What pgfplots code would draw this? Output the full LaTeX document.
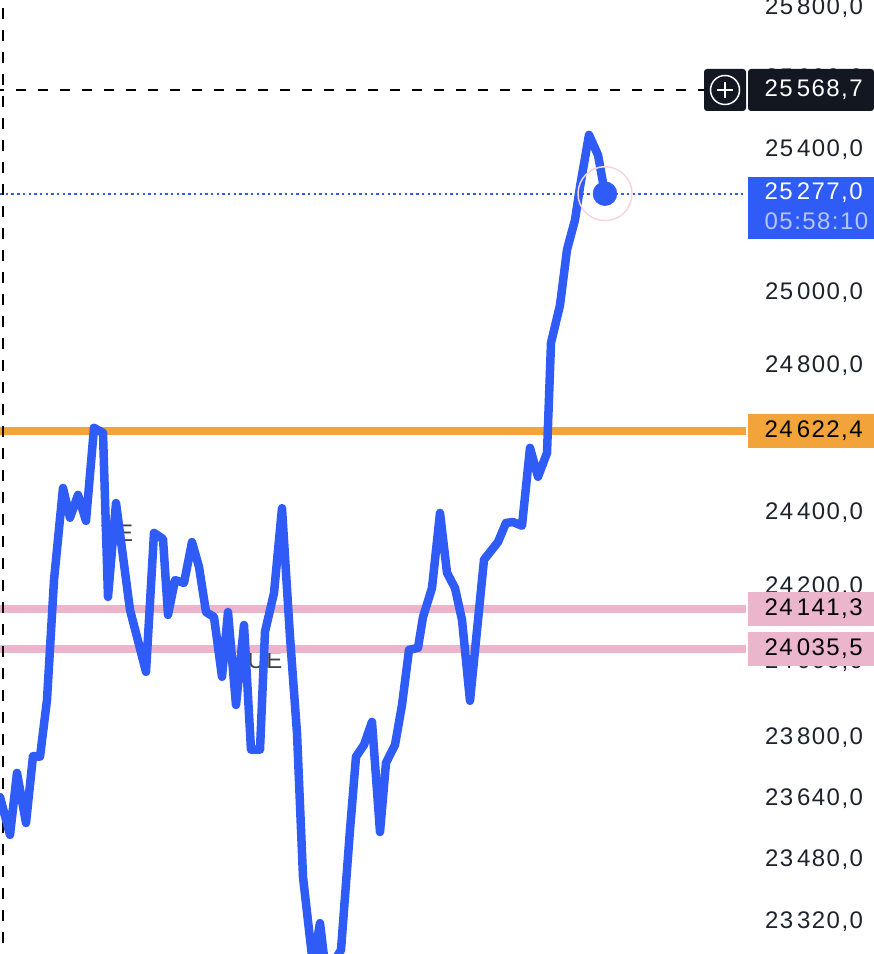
\documentclass[border=0pt]{standalone}
\usepackage{fontspec}
\setmainfont[LetterSpace=6]{Liberation Sans}
\usepackage{pgfplots}
\pgfplotsset{compat=1.18}

\definecolor{lineblue}{HTML}{2F5BF6}
\definecolor{lineorange}{HTML}{F2A33A}
\definecolor{linepink}{HTML}{EBB5CB}
\definecolor{tagblack}{HTML}{131722}
\definecolor{ringpink}{HTML}{F6D6D9}
\definecolor{lightblue}{HTML}{B5C5FB}
\definecolor{ticktext}{HTML}{1E222D}
\newcommand{\pricefont}{\fontsize{24}{26}\selectfont}

\begin{document}
\begin{tikzpicture}[x=1pt,y=1pt]
\useasboundingbox (0,0) rectangle (874,954);
\clip (0,0) rectangle (874,954);
\begin{axis}[
	at={(0,0)}, anchor=south west,
	scale only axis,
	width=746pt, height=954pt,
	xmin=0, xmax=746,
	% log price scale: ymode=log overflows on so narrow a range
	y coord trafo/.code={%
		\begingroup
		\pgfkeys{/pgf/fpu=true,/pgf/fpu/output format=fixed}%
		\pgfmathparse{(ln(#1)-10)*1000}%
		\global\let\logprice\pgfmathresult
		\endgroup
		\let\pgfmathresult\logprice
	},
	ymin=23238, ymax=25824.5,
	xtick=\empty,
	ytick={23320,23480,23640,23800,24000,24200,24400,24600,24800,25000,25400,25600,25800},
	yticklabels={{23\,320,0},{23\,480,0},{23\,640,0},{23\,800,0},{24\,000,0},{24\,200,0},{24\,400,0},{24\,600,0},{24\,800,0},{25\,000,0},{25\,400,0},{25\,600,0},{25\,800,0}},
	ytick pos=right,
	yticklabel pos=right,
	major tick length=0pt,
	minor tick length=0pt,
	axis line style={draw=none},
	yticklabel style={font=\pricefont, text=ticktext, anchor=west, xshift=15.5pt, yshift=0.5pt},
]
% session labels behind the price line
\node[font=\pricefont, text=ticktext!85!white] at (axis cs:117,24345) {TE};
\node[font=\pricefont, text=ticktext!85!white] at (axis cs:265,24006) {UE};

\addplot[lineorange, line width=8pt] coordinates {(0,24622.4)(746,24622.4)};
\addplot[linepink, line width=8pt] coordinates {(0,24141.3)(746,24141.3)};
\addplot[linepink, line width=8pt] coordinates {(0,24035.5)(746,24035.5)};

\addplot[black, line width=2pt, dash pattern=on 11pt off 11pt, dash phase=11pt] coordinates {(3,23238)(3,25824.5)};
\addplot[black, line width=2pt, dash pattern=on 10pt off 12pt, dash phase=6pt] coordinates {(0,25568.7)(704,25568.7)};
\addplot[lineblue, line width=2pt, dash pattern=on 2.4pt off 3.3pt] coordinates {(0,25277)(746,25277)};

\addplot[only marks, mark=o, mark size=27pt, mark options={draw=ringpink, line width=1.5pt, fill=none}] coordinates {(605,25277)};

\addplot[lineblue, line width=8.5pt, line join=round, line cap=round] coordinates {
(0,23645.4)(10,23546.5)(17,23708.5)(26,23577.7)(33,23753.2)(40,23750.6)(47,23900.4)
(54,24220)(63,24467.6)(70,24386.6)(78,24448.6)(86,24378.6)(94,24630.7)(103,24617.1)
(108,24174.2)(116,24427)(130,24139.6)(137,24067.9)(146,23974.8)(154,24346.3)(163,24330.2)
(168,24126.3)(175,24220)(184,24211.9)(192,24322.1)(199,24254.9)(206,24134.3)(214,24121)
(222,23961.5)(228,24134.3)(236,23887.3)(244,24099.7)(251,23768.9)(260,23768.9)(265,24081.1)
(274,24185)(282,24413.5)(290,24067.9)(297,23813.6)(303,23437.3)(313,23210.3)(320,23318.3)
(325,23210.3)(335,23223.2)(341,23248.9)(350,23559.5)(356,23750.6)(364,23782.1)(372,23842.6)
(380,23554.3)(386,23734.8)(395,23782.1)(402,23887.3)(409,24033.3)(418,24038.6)(423,24121)
(432,24198.5)(440,24400.1)(447,24238.8)(455,24198.5)(462,24113)(470,23897.8)(484,24273.7)
(498,24322.1)(506,24373.2)(513,24375.9)(522,24365.1)(530,24576.3)(538,24497.5)(547,24562.8)
(551,24863.4)(560,24967.7)(567,25120.5)(575,25203.8)(580,25295.9)(589,25442)(598,25385.8)
(605,25277)
};
\addplot[only marks, mark=*, mark size=12pt, mark options={draw=lineblue, fill=lineblue}] coordinates {(605,25277)};
\end{axis}

% price tags on the scale, y measured from the bottom of the picture
\tikzset{tag/.style={anchor=west, inner sep=0pt, font=\pricefont}}
\fill[tagblack, rounded corners=3pt] (704,843) rectangle (746,885);
\fill[tagblack, rounded corners=3pt] (748,843) rectangle (874,885);
\draw[white, line width=1.5pt] (725,864) circle (14.5);
\draw[white, line width=1.5pt] (717,864) -- (733,864) (725,856) -- (725,872);
\node[tag, text=white] at (764.5,864) {25\,568,7};

\fill[lineblue] (748,715) rectangle (874,777);
\node[tag, text=white] at (764.5,761) {25\,277,0};
\node[tag, text=lightblue] at (764.5,733) {05:58:10};

\fill[lineorange] (748,506) rectangle (874,540);
\node[tag, text=black] at (764.5,523) {24\,622,4};
\fill[linepink] (748,328) rectangle (874,362);
\node[tag, text=black] at (764.5,345) {24\,141,3};
\fill[linepink] (748,288) rectangle (874,322);
\node[tag, text=black] at (764.5,305) {24\,035,5};
\end{tikzpicture}
\end{document}
